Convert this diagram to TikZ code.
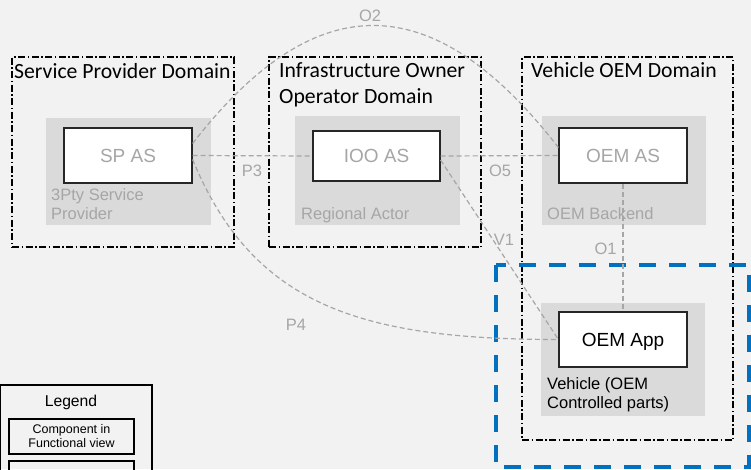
\documentclass[tikz,border=0pt]{standalone}
\usepackage{fontspec}
\setmainfont{Liberation Sans}
\newfontfamily\titlefont{Carlito}
\definecolor{bggray}{HTML}{F2F2F2}
\definecolor{groupgray}{HTML}{DADADA}
\definecolor{softgray}{HTML}{A6A6A6}
\definecolor{vehblue}{HTML}{0070C0}
\begin{document}
\begin{tikzpicture}[x=1pt,y=-1pt,
  domainbox/.style={draw=black, line width=1.3pt, dash pattern=on 7pt off 2.5pt on 1.5pt off 2.5pt, fill=none},
  groupbox/.style={fill=groupgray, draw=none, inner sep=0pt},
  comp/.style={draw=black!85, fill=white, line width=1.2pt, inner sep=0pt,
    font=\fontsize{19}{22}\selectfont, text height=13.6pt, text depth=0pt},
  conn/.style={draw=softgray, line width=1.2pt, dash pattern=on 5pt off 3pt},
  connlabel/.style={text=softgray, font=\fontsize{16.5}{19}\selectfont, inner sep=0pt, anchor=base},
  grouplabel/.style={text=softgray, font=\fontsize{16.5}{19}\selectfont, align=left, inner sep=0pt, anchor=base west},
  domaintitle/.style={font=\titlefont\fontsize{21.7}{26}\selectfont, align=left, inner sep=0pt, anchor=base west},
  vehiclebox/.style={draw=vehblue, line width=4pt, dash pattern=on 17pt off 13pt},
  legendbox/.style={draw=black, line width=1.5pt}]
\useasboundingbox (0,0) rectangle (751,469);
\clip (0,0) rectangle (751,469);
\fill[bggray] (0,0) rectangle (751,469);

% domains
\node[domainbox, minimum width=222pt, minimum height=190pt] (spdom) at (123,152) {};
\node[domainbox, minimum width=212pt, minimum height=190pt] (ioodom) at (375,152) {};
\node[domainbox, minimum width=211pt, minimum height=383pt] (oemdom) at (627.5,248.5) {};
% titles: multi-line nodes are anchored on their last baseline
\node[domaintitle] (sptitle) at (14,78) {Service Provider Domain};
\node[domaintitle] (iootitle) at (279,103) {Infrastructure Owner\\Operator Domain};
\node[domaintitle] (oemtitle) at (531,77) {Vehicle OEM Domain};

% actor groups
\node[groupbox, minimum width=165pt, minimum height=107pt] (spgrp) at (128.5,171.5) {};
\node[groupbox, minimum width=165pt, minimum height=109pt] (ioogrp) at (377.5,170.5) {};
\node[groupbox, minimum width=164pt, minimum height=109pt] (oemgrp) at (624,170.5) {};
\node[groupbox, minimum width=164pt, minimum height=113pt] (vehgrp) at (623,359.5) {};
\node[grouplabel] (splbl) at (51,219) {3Pty Service\\Provider};
\node[grouplabel] (ioolbl) at (301,219) {Regional Actor};
\node[grouplabel] (oemlbl) at (547,219) {OEM Backend};
\node[grouplabel, text=black] (vehlbl) at (547,408) {Vehicle (OEM\\Controlled parts)};

% vehicle boundary
\draw[vehiclebox] (496,265) rectangle (749,467);

% components
\node[comp, minimum width=128pt, minimum height=55pt, text=softgray] (spas) at (128,155.5) {SP AS};
\node[comp, minimum width=127pt, minimum height=50pt, text=softgray] (iooas) at (376.5,156) {IOO AS};
\node[comp, minimum width=128pt, minimum height=55pt, text=softgray] (oemas) at (623,155.5) {OEM AS};
\node[comp, minimum width=128pt, minimum height=55pt] (oemapp) at (623,339.5) {OEM App};

% interfaces
\draw[conn] (spas.east) -- (iooas.west);
\draw[conn] (iooas.east) -- (oemas.west);
\draw[conn] (oemas.south) -- (oemapp.north);
\draw[conn] ([yshift=12pt]spas.east) .. controls +(124,-160) and +(-124,-160) .. ([yshift=8pt]oemas.west);
\draw[conn] ([yshift=-4pt]iooas.east) -- (oemapp.west);
\draw[conn] ([yshift=-4pt]spas.east) .. controls +(60,145) and +(-200,0) .. (oemapp.west);

\node[connlabel] (lp3) at (252,176) {P3};
\node[connlabel] (lo5) at (500,176) {O5};
\node[connlabel] (lo2) at (370,21.7) {O2};
\node[connlabel] (lv1) at (504,245) {V1};
\node[connlabel] (lp4) at (296,330) {P4};
\node[connlabel] (lo1) at (605.5,254) {O1};

% legend
\draw[legendbox] (0.5,385) rectangle (152,520);
\node[font=\fontsize{15.7}{18}\selectfont, inner sep=0pt, anchor=base] (legtitle) at (71,406.5) {Legend};
\node[legendbox, minimum width=125pt, minimum height=35pt, inner sep=0pt, align=center,
  font=\fontsize{12.5}{14}\selectfont] (legcomp) at (71.5,436.5) {Component in\\Functional view};
\draw[legendbox] (9,461) rectangle (134,520);
\end{tikzpicture}
\end{document}
